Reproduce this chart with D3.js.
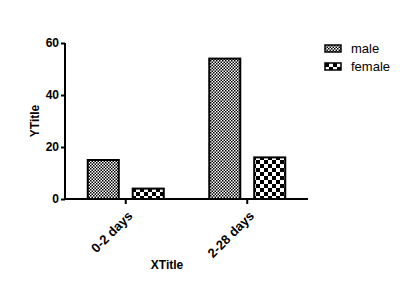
<!doctype html>
<html>
<head>
    <meta charset="UTF-8">
    <script src="https://d3js.org/d3.v7.min.js"></script>
    <style>
        body { margin: 0; background: #fff; }
        text { font-family: "Liberation Sans", Arial, sans-serif; }
    </style>
</head>
<body>
    <svg width="414" height="286"></svg>
    <script>
        var categories = ["0-2 days", "2-28 days"];
        var series = ["male", "female"];
        var male = [15, 54];
        var female = [4, 16];
        var yTicks = [0, 20, 40, 60];

        var svg = d3.select("svg");
        var pLeft = 65, pRight = 308, pTop = 43, pBottom = 199;

        // patterns
        var defs = svg.append("defs");
        var p1 = defs.append("pattern").attr("id", "pmale")
            .attr("patternUnits", "userSpaceOnUse").attr("width", 3).attr("height", 3);
        p1.append("rect").attr("width", 3).attr("height", 3).attr("fill", "#fff");
        p1.append("rect").attr("width", 1.5).attr("height", 1.5).attr("fill", "#000");
        p1.append("rect").attr("x", 1.5).attr("y", 1.5).attr("width", 1.5).attr("height", 1.5).attr("fill", "#000");
        var p2 = defs.append("pattern").attr("id", "pfemale")
            .attr("patternUnits", "userSpaceOnUse").attr("width", 8).attr("height", 8);
        p2.append("rect").attr("width", 8).attr("height", 8).attr("fill", "#fff");
        p2.append("rect").attr("width", 4).attr("height", 4).attr("fill", "#000");
        p2.append("rect").attr("x", 4).attr("y", 4).attr("width", 4).attr("height", 4).attr("fill", "#000");
        var fills = { male: "url(#pmale)", female: "url(#pfemale)" };

        var x0 = d3.scaleBand().domain(categories).range([pLeft, pRight]);
        var x1 = d3.scaleBand().domain(series).range([-38, 38]).paddingInner(0.31);
        var y = d3.scaleLinear().domain([0, 60]).range([pBottom, pTop]);

        var data = [];
        categories.forEach(function (c, i) {
            data.push({ cat: c, s: "male", v: male[i] });
            data.push({ cat: c, s: "female", v: female[i] });
        });

        svg.selectAll("rect.bar").data(data).enter().append("rect")
            .attr("class", "bar")
            .attr("x", function (d) { return x0(d.cat) + x0.bandwidth() / 2 + x1(d.s); })
            .attr("y", function (d) { return y(d.v); })
            .attr("width", x1.bandwidth())
            .attr("height", function (d) { return pBottom - y(d.v); })
            .attr("fill", function (d) { return fills[d.s]; })
            .attr("stroke", "#000")
            .attr("stroke-width", 2);

        // y axis
        var yAxis = svg.append("g").attr("transform", "translate(" + pLeft + ",0)")
            .call(d3.axisLeft(y).tickValues(yTicks).tickSize(4).tickPadding(2));
        yAxis.select(".domain").attr("stroke-width", 2).attr("d", "M0," + pTop + "V" + pBottom);
        yAxis.selectAll(".tick line").attr("stroke-width", 2);
        yAxis.selectAll("text").attr("font-size", 12).attr("font-weight", "bold")
            .attr("fill", "#000").style("font-family", "Liberation Sans, Arial, sans-serif");

        // x axis
        var xAxis = svg.append("g").attr("transform", "translate(0," + pBottom + ")")
            .call(d3.axisBottom(x0).tickSize(5).tickPadding(3));
        xAxis.select(".domain").attr("stroke-width", 2).attr("d", "M" + pLeft + ",0H" + pRight);
        xAxis.selectAll(".tick line").attr("stroke-width", 2);
        xAxis.selectAll("text").attr("font-size", 13).attr("font-weight", "bold")
            .attr("fill", "#000").style("font-family", "Liberation Sans, Arial, sans-serif")
            .attr("text-anchor", "end").attr("dy", 0)
            .attr("transform", "translate(2,12) rotate(-45)");

        svg.append("text").attr("x", 167).attr("y", 269).attr("text-anchor", "middle")
            .attr("font-size", 12).attr("font-weight", "bold").text("XTitle");
        svg.append("text").attr("transform", "translate(39,121) rotate(-90)")
            .attr("text-anchor", "middle").attr("font-size", 12).attr("font-weight", "bold").text("YTitle");

        // legend
        var leg = svg.selectAll("g.leg").data(series).enter().append("g").attr("class", "leg")
            .attr("transform", function (d, i) { return "translate(325," + (45 + i * 18) + ")"; });
        leg.append("rect").attr("width", 16).attr("height", 7)
            .attr("fill", function (d) { return fills[d]; }).attr("stroke", "#000").attr("stroke-width", 1.5);
        leg.append("text").attr("x", 26).attr("y", 8).attr("font-size", 13).attr("fill", "#000")
            .text(function (d) { return d; });
    </script>
</body>
</html>
